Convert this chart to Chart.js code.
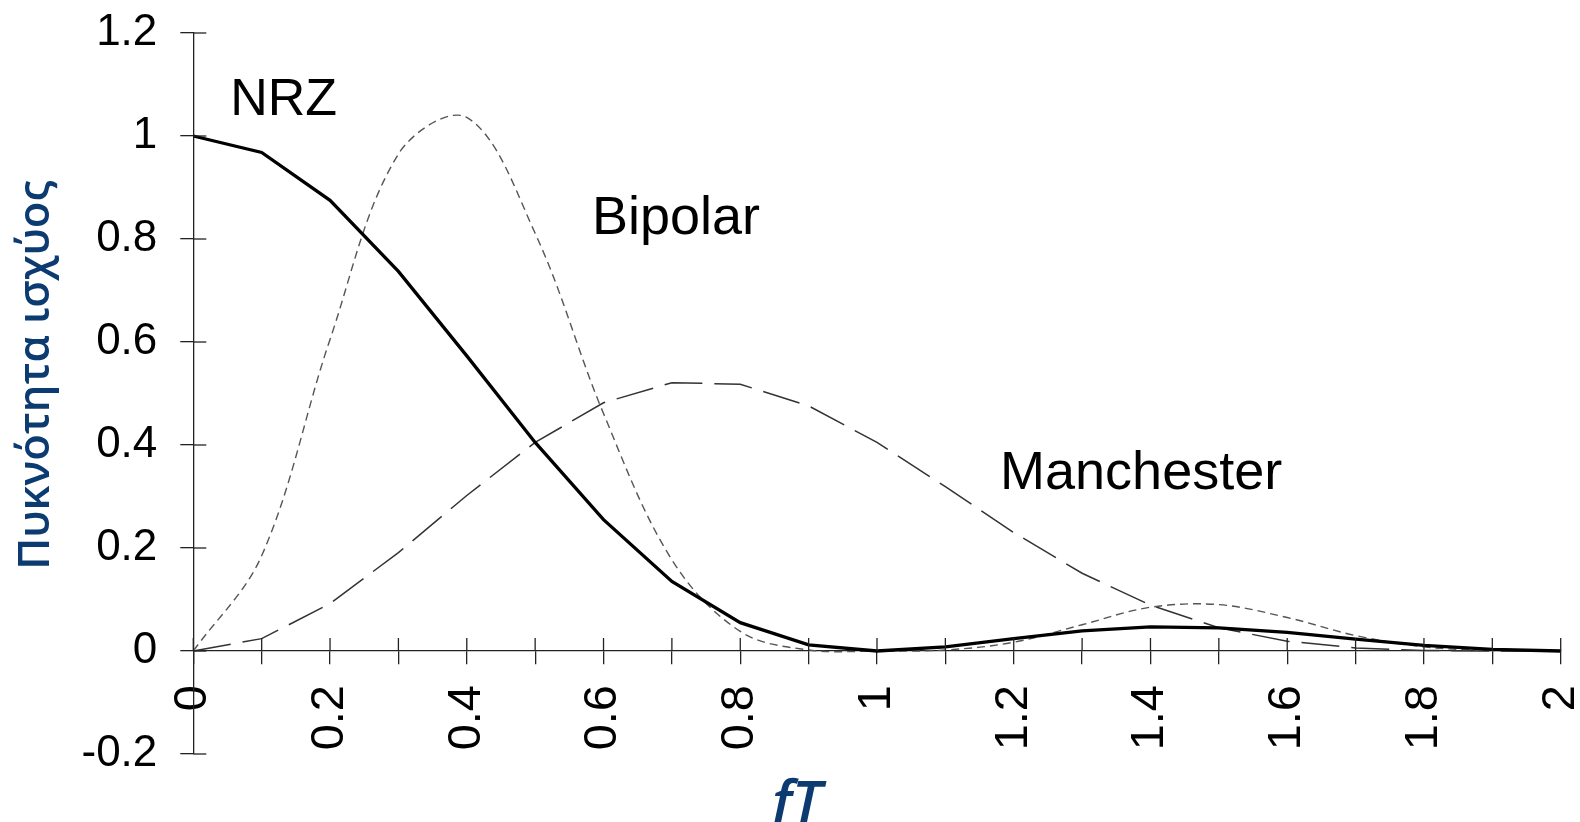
<!DOCTYPE html>
<html>
<head>
<meta charset="utf-8">
<script src="https://cdn.jsdelivr.net/npm/chart.js@4/dist/chart.umd.min.js"></script>
<style>
html,body{margin:0;padding:0;background:#ffffff;}
#wrap{width:1580px;height:822px;position:relative;}
</style>
</head>
<body>
<div id="wrap"><canvas id="c" width="1580" height="822"></canvas></div>
<script>
// ---- data ----
const fTValues = [0,0.1,0.2,0.3,0.4,0.5,0.6,0.7,0.8,0.9,1.0,1.1,1.2,1.3,1.4,1.5,1.6,1.7,1.8,1.9,2.0];
const nrzValues = [1.000,0.968,0.875,0.737,0.573,0.405,0.255,0.135,0.055,0.012,0.000,0.008,0.024,0.039,0.047,0.045,0.036,0.023,0.011,0.003,0.000];
const bipolarValues = [0.000,0.185,0.605,0.965,1.036,0.811,0.461,0.177,0.038,0.002,0.000,0.002,0.017,0.051,0.085,0.090,0.065,0.030,0.008,0.001,0.000];
const manchesterValues = [0.000,0.024,0.092,0.191,0.302,0.405,0.482,0.521,0.518,0.476,0.405,0.319,0.230,0.151,0.089,0.045,0.019,0.006,0.001,0.000,0.000];
const seriesNames = ['NRZ','Bipolar','Manchester'];
const xTickLabels = ['0','0.2','0.4','0.6','0.8','1','1.2','1.4','1.6','1.8','2'];
const yTickLabels = ['-0.2','0','0.2','0.4','0.6','0.8','1','1.2'];
const xAxisTitle = 'fT';
const yAxisTitle = 'Πυκνότητα ισχύος';

// ---- styling ----
const axisColor = '#222222';
const titleColor = '#0b3b70';
const tickFont = '"Liberation Sans", Arial, sans-serif';

function pts(xs, ys){ return xs.map((x,i)=>({x:x, y:ys[i]})); }

const decor = {
  id: 'decor',
  afterDraw(chart, args, opts) {
    const {ctx, scales} = chart;
    const xs = scales.x, ys = scales.y;
    ctx.save();
    // inward halves of the tick marks (ticks cross the axes)
    ctx.strokeStyle = axisColor;
    ctx.lineWidth = 1.3;
    const y0 = ys.getPixelForValue(0);
    xs.ticks.forEach(t => {
      const px = xs.getPixelForValue(t.value);
      ctx.beginPath(); ctx.moveTo(px, y0); ctx.lineTo(px, y0 - opts.tickLen); ctx.stroke();
    });
    const x0 = xs.getPixelForValue(0);
    ys.ticks.forEach(t => {
      const py = ys.getPixelForValue(t.value);
      ctx.beginPath(); ctx.moveTo(x0, py); ctx.lineTo(x0 + opts.tickLen, py); ctx.stroke();
    });
    // series labels
    ctx.fillStyle = '#000';
    ctx.textAlign = 'left';
    ctx.textBaseline = 'alphabetic';
    opts.labels.forEach(l => {
      ctx.font = l.size + 'px ' + tickFont;
      ctx.fillText(seriesNames[l.i], xs.getPixelForValue(l.x), ys.getPixelForValue(l.y));
    });
    // axis titles
    ctx.fillStyle = titleColor;
    ctx.save();
    ctx.translate(opts.yTitle.x, opts.yTitle.y);
    ctx.rotate(-Math.PI/2);
    ctx.textAlign = 'center';
    ctx.textBaseline = 'middle';
    ctx.font = '600 43.5px "Open Sans", sans-serif';
    ctx.fillText(yAxisTitle, 0, 0);
    ctx.restore();
    ctx.font = 'italic 600 58px "Open Sans", sans-serif';
    ctx.textAlign = 'center';
    ctx.textBaseline = 'alphabetic';
    ctx.fillText(xAxisTitle, opts.xTitle.x, opts.xTitle.y);
    ctx.restore();
  }
};

new Chart(document.getElementById('c'), {
  type: 'line',
  data: {
    datasets: [
      { label: seriesNames[0], data: pts(fTValues, nrzValues), borderColor: '#000000', borderWidth: 3.3,
        pointRadius: 0, tension: 0, fill: false },
      { label: seriesNames[1], data: pts(fTValues, bipolarValues), borderColor: '#555555', borderWidth: 1.4,
        borderDash: [8,5], pointRadius: 0, tension: 0.35, fill: false },
      { label: seriesNames[2], data: pts(fTValues, manchesterValues), borderColor: '#333333', borderWidth: 1.5,
        borderDash: [38,12], pointRadius: 0, tension: 0, fill: false }
    ]
  },
  options: {
    responsive: false,
    animation: false,
    devicePixelRatio: 1,
    layout: { padding: { left: 0, top: 33, right: 19.3, bottom: 68 } },
    plugins: {
      legend: { display: false },
      tooltip: { enabled: false },
      decor: {
        tickLen: 13,
        labels: [ {i:0, x:0.054, y:1.04, size:52}, {i:1, x:0.583, y:0.81, size:54}, {i:2, x:1.18, y:0.315, size:54} ],
        yTitle: { x: 37, y: 375 },
        xTitle: { x: 797, y: 822 }
      }
    },
    scales: {
      x: {
        type: 'linear',
        position: { y: 0 },
        min: 0, max: 2,
        grid: { display: true, drawOnChartArea: false, drawTicks: true, tickLength: 13, color: axisColor, lineWidth: 1.3 },
        border: { display: true, color: axisColor, width: 1.3 },
        ticks: {
          stepSize: 0.1, autoSkip: false, minRotation: 90, maxRotation: 90, padding: 21,
          color: '#000', font: { family: tickFont, size: 47 },
          callback: (v) => { const k = Math.round(v * 10); return k % 2 === 0 ? xTickLabels[k / 2] : ''; }
        },
        afterFit: (s) => { s.paddingLeft = 0; s.paddingRight = 0; s.paddingTop = 0; s.paddingBottom = 0; }
      },
      y: {
        type: 'linear',
        position: 'left',
        min: -0.2, max: 1.2,
        grid: { display: true, drawOnChartArea: false, drawTicks: true, tickLength: 13, color: axisColor, lineWidth: 1.3 },
        border: { display: true, color: axisColor, width: 1.3 },
        ticks: {
          stepSize: 0.2, padding: 23, color: '#000', font: { family: tickFont, size: 44 },
          callback: (v) => yTickLabels[Math.round((v + 0.2) / 0.2)]
        },
        afterFit: (s) => { s.width = 193.3; s.paddingTop = 0; s.paddingBottom = 0; s.paddingLeft = 0; s.paddingRight = 0; }
      }
    }
  },
  plugins: [decor]
});
</script>
</body>
</html>
